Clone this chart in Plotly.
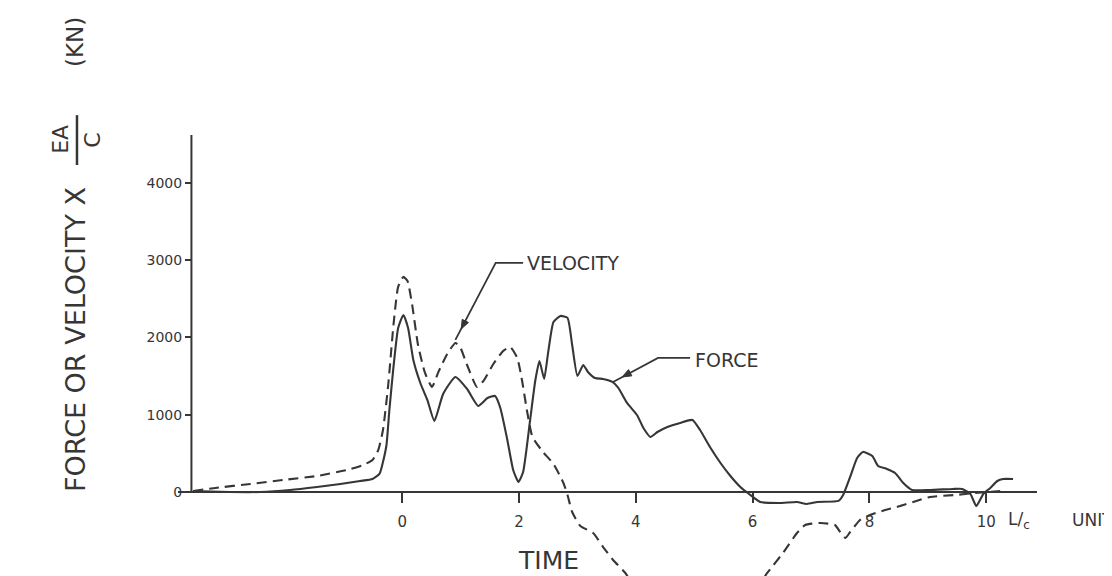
import plotly.graph_objects as go

# ---- data (time in L/c units, values in kN) ----
force_t = [-3.58, -2.95, -2.43, -1.92, -1.46, -1.06, -0.72, -0.51, -0.39, -0.33, -0.27, -0.22,
           -0.15, -0.07, 0.02, 0.10, 0.19, 0.31, 0.43, 0.55, 0.70, 0.91, 1.11, 1.30, 1.46, 1.59,
           1.68, 1.80, 1.90, 1.99, 2.07, 2.19, 2.28, 2.35, 2.43, 2.50, 2.59, 2.71, 2.83, 2.91,
           3.00, 3.10, 3.18, 3.30, 3.44, 3.60, 3.70, 3.85, 4.02, 4.13, 4.25, 4.37, 4.54, 4.76,
           4.97, 5.10, 5.27, 5.45, 5.62, 5.79, 5.94, 6.13, 6.47, 6.76, 6.93, 7.11, 7.47, 7.55,
           7.67, 7.79, 7.89, 8.05, 8.15, 8.30, 8.44, 8.58, 8.73, 9.04, 9.43, 9.59, 9.73, 9.83,
           9.95, 10.07, 10.19, 10.29, 10.46]
force_v = [13, 0, 0, 26, 65, 104, 142, 168, 233, 388, 608, 1061,
           1618, 2122, 2290, 2122, 1708, 1410, 1190, 919, 1268, 1488, 1333, 1113, 1216, 1242,
           1087, 673, 285, 129, 259, 932, 1449, 1695, 1462, 1812, 2200, 2277, 2252, 1902,
           1501, 1643, 1553, 1475, 1462, 1423, 1346, 1152, 996, 828, 712, 776, 841, 893,
           932, 802, 582, 375, 207, 65, -26, -129, -142, -129, -155, -129, -116, -39,
           194, 440, 518, 466, 336, 298, 246, 116, 26, 26, 39, 39, -26, -181,
           -26, 52, 142, 168, 168]

vel_t = [-3.58, -3.20, -2.60, -2.04, -1.46, -0.94, -0.67, -0.51, -0.41, -0.33, -0.24, -0.15,
         -0.07, 0.02, 0.09, 0.17, 0.27, 0.39, 0.51, 0.62, 0.77, 0.91, 0.99, 1.11, 1.28, 1.39,
         1.56, 1.73, 1.85, 1.97, 2.05, 2.14, 2.23, 2.41, 2.59, 2.76, 2.83, 2.91, 3.05, 3.27,
         3.44, 3.61, 3.82, 3.96, 4.42, 5.10, 5.79, 6.13, 6.25, 6.52, 6.76, 6.90, 7.16, 7.41,
         7.50, 7.59, 7.67, 7.84, 8.01, 8.27, 8.53, 8.75, 9.04, 9.47, 9.81, 10.24]
vel_v = [13, 52, 104, 155, 207, 285, 349, 414, 544, 802, 1385, 2161,
         2653, 2782, 2730, 2420, 1902, 1540, 1359, 1553, 1786, 1928, 1876, 1643, 1359, 1436,
         1656, 1825, 1876, 1734, 1449, 1035, 712, 518, 362, 116, -39, -259, -440, -531,
         -712, -880, -1048, -1203, -1359, -1398, -1359, -1178, -1048, -789, -531, -427, -401, -427,
         -518, -595, -518, -362, -298, -233, -181, -129, -65, -39, -13, 13]

x_ticks = [0, 2, 4, 6, 8, 10]
x_tick_labels = ["0", "2", "4", "6", "8", "10"]
y_ticks = [0, 1000, 2000, 3000, 4000]
y_tick_labels = ["0", "1000", "2000", "3000", "4000"]

INK = "#363636"
FONT = "DejaVu Sans"

fig = go.Figure()
fig.add_trace(go.Scatter(x=force_t, y=force_v, mode="lines", name="FORCE",
                         line=dict(color=INK, width=2.1, shape="spline", smoothing=0.5)))
fig.add_trace(go.Scatter(x=vel_t, y=vel_v, mode="lines", name="VELOCITY",
                         line=dict(color=INK, width=2.1, dash="10px,6px", shape="spline", smoothing=0.5)))

# y axis line (only from 0 upward)
fig.add_shape(type="line", xref="x", yref="y", x0=-3.61, x1=-3.61, y0=0, y1=4618,
              line=dict(color=INK, width=2))

# leader lines and arrowheads for the curve labels
fig.add_shape(type="path", xref="x", yref="y",
              path="M 2.07 2963 L 1.60 2963 L 0.91 1967", line=dict(color=INK, width=1.8))
fig.add_shape(type="path", xref="x", yref="y",
              path="M 1.010 2109 L 1.134 2192 L 1.027 2233 Z",
              line=dict(color=INK, width=1), fillcolor=INK)
fig.add_shape(type="path", xref="x", yref="y",
              path="M 4.93 1734 L 4.38 1734 L 3.61 1423", line=dict(color=INK, width=1.8))
fig.add_shape(type="path", xref="x", yref="y",
              path="M 3.767 1488 L 3.932 1502 L 3.875 1583 Z",
              line=dict(color=INK, width=1), fillcolor=INK)

fig.add_annotation(x=2.11, y=2963, xref="x", yref="y", text="VELOCITY", showarrow=False,
                   xanchor="left", yanchor="middle", font=dict(family=FONT, size=19, color=INK))
fig.add_annotation(x=4.98, y=1708, xref="x", yref="y", text="FORCE", showarrow=False,
                   xanchor="left", yanchor="middle", font=dict(family=FONT, size=19, color=INK))

# x axis title and units
fig.add_annotation(x=2.5, y=-880, xref="x", yref="y", text="TIME", showarrow=False,
                   xanchor="center", yanchor="middle", font=dict(family=FONT, size=25, color=INK))
fig.add_annotation(x=10.56, y=-370, xref="x", yref="y", text="L/<sub>c</sub>", showarrow=False,
                   xanchor="center", yanchor="middle", font=dict(family=FONT, size=17, color=INK))
fig.add_annotation(x=1.038, y=0.127, xref="paper", yref="paper", text="UNITS", showarrow=False,
                   xanchor="left", yanchor="middle", font=dict(family=FONT, size=17, color=INK))

# y axis title pieces
fig.add_annotation(x=-0.1199, y=0.535, xref="paper", yref="paper", text="FORCE OR VELOCITY X",
                   showarrow=False, textangle=-90, xanchor="center", yanchor="middle",
                   font=dict(family=FONT, size=27, color=INK))
fig.add_annotation(x=-0.1362, y=0.989, xref="paper", yref="paper", text="EA",
                   showarrow=False, textangle=-90, xanchor="center", yanchor="middle",
                   font=dict(family=FONT, size=22, color=INK))
fig.add_annotation(x=-0.0990, y=0.989, xref="paper", yref="paper", text="C",
                   showarrow=False, textangle=-90, xanchor="center", yanchor="middle",
                   font=dict(family=FONT, size=22, color=INK))
fig.add_annotation(x=-0.1199, y=1.211, xref="paper", yref="paper", text="(KN)",
                   showarrow=False, textangle=-90, xanchor="center", yanchor="middle",
                   font=dict(family=FONT, size=23, color=INK))
fig.add_shape(type="line", xref="paper", yref="paper", x0=-0.1176, x1=-0.1176, y0=0.932, y1=1.045,
              line=dict(color=INK, width=2.5))

# page body has an 8px margin: the figure is sized and offset so that the plot area
# lands on the same window pixels as the reference
fig.update_layout(
    width=1104, height=568,
    margin=dict(l=170, r=75, t=127, b=0),
    paper_bgcolor="white", plot_bgcolor="white",
    showlegend=False,
    xaxis=dict(range=[-3.84, 10.87], anchor="free", position=0.1905,
               showline=True, linecolor=INK, linewidth=2,
               ticks="outside", ticklen=10, tickwidth=2, tickcolor=INK,
               tickvals=x_ticks, ticktext=x_tick_labels, ticklabelstandoff=6,
               tickfont=dict(family=FONT, size=15, color=INK),
               showgrid=False, zeroline=False, fixedrange=True),
    yaxis=dict(range=[-1087, 4618], anchor="free", position=0.01513,
               showline=False, ticks="outside", ticklen=6, tickwidth=2, tickcolor=INK,
               tickvals=y_ticks, ticktext=y_tick_labels,
               tickfont=dict(family=FONT, size=14, color=INK),
               showgrid=False, zeroline=False, fixedrange=True),
)

fig.write_html("out.html")
